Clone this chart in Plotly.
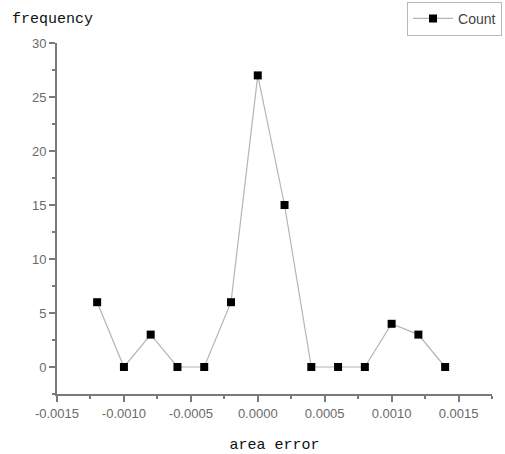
import plotly.graph_objects as go

area_error = [-0.0012, -0.0010, -0.0008, -0.0006, -0.0004, -0.0002, 0.0,
              0.0002, 0.0004, 0.0006, 0.0008, 0.0010, 0.0012, 0.0014]
count = [6, 0, 3, 0, 0, 6, 27, 15, 0, 0, 0, 4, 3, 0]

x_ticks = [-0.0015, -0.0010, -0.0005, 0.0, 0.0005, 0.0010, 0.0015]
x_tick_text = ["-0.0015", "-0.0010", "-0.0005", "0.0000", "0.0005", "0.0010", "0.0015"]
y_ticks = [0, 5, 10, 15, 20, 25, 30]

W, H = 505, 454
ML, MR, MT, MB = 57, 13, 43, 60
PW, PH = W - ML - MR, H - MT - MB

fig = go.Figure()
fig.add_trace(go.Scatter(
    x=area_error, y=count, mode="lines+markers", name="Count",
    line=dict(color="#b4b4b4", width=1.2),
    marker=dict(symbol="square", size=8, color="black"),
))

axis_color = "#7a7a7a"
fig.update_xaxes(
    range=[-0.0015, 0.00175], tickvals=x_ticks, ticktext=x_tick_text,
    showgrid=False, zeroline=False, showline=True, linecolor=axis_color, linewidth=2,
    ticks="outside", ticklen=6, tickwidth=1.5, tickcolor=axis_color,
    minor=dict(ticks="outside", ticklen=3, dtick=0.00025, tick0=-0.0015, tickcolor=axis_color, showgrid=False),
    tickfont=dict(family="Liberation Sans, Arial", size=13, color="#6a6a6a"),
    title=dict(text="area error", font=dict(family="Liberation Mono, Courier New", size=15, color="#111"), standoff=20),
)
fig.update_yaxes(
    range=[-2.5, 30], tickvals=y_ticks,
    showgrid=False, zeroline=False, showline=True, linecolor=axis_color, linewidth=2,
    ticks="outside", ticklen=6, tickwidth=1.5, tickcolor=axis_color,
    minor=dict(ticks="outside", ticklen=3, dtick=2.5, tick0=0, tickcolor=axis_color, showgrid=False),
    tickfont=dict(family="Liberation Sans, Arial", size=13, color="#6a6a6a"),
)

fig.update_layout(
    width=W, height=H,
    margin=dict(l=ML, r=MR, t=MT, b=MB, autoexpand=False),
    paper_bgcolor="white", plot_bgcolor="white",
    showlegend=True,
    legend=dict(xref="container", yref="container", x=0.806, y=0.996, xanchor="left", yanchor="top",
                bordercolor="#b8b8b8", borderwidth=1, bgcolor="white",
                font=dict(family="Liberation Sans, Arial", size=14, color="#444"),
                itemwidth=40, tracegroupgap=0),
    annotations=[dict(text="frequency", xref="paper", yref="paper",
                      x=(10 - ML) / PW, y=(H - MB - 19) / PH,
                      xanchor="left", yanchor="middle", showarrow=False,
                      font=dict(family="Liberation Mono, Courier New", size=15, color="#111"))],
)

fig.write_html("out.html", config={"displayModeBar": False},
               post_script="document.body.style.margin='0';")
